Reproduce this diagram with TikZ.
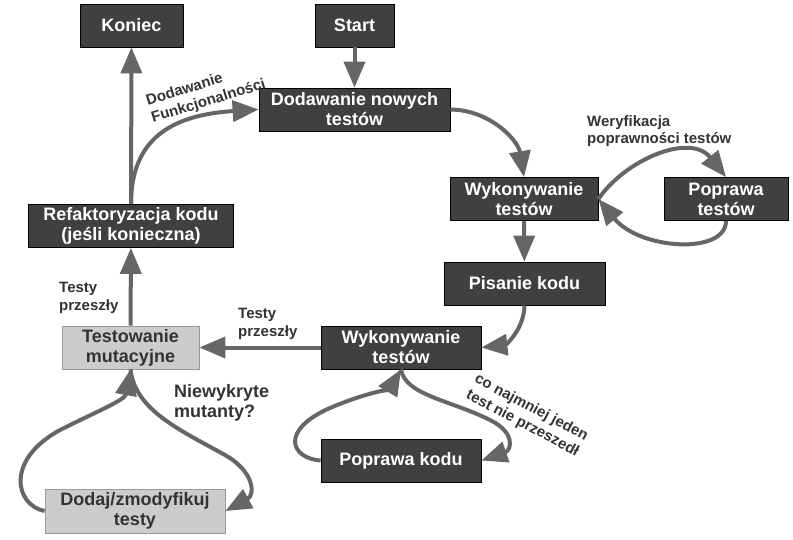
\documentclass[tikz,border=0pt]{standalone}
\usepackage{fontspec}
\setmainfont{Liberation Sans}
\usetikzlibrary{arrows.meta}

\definecolor{boxdark}{HTML}{404040}
\definecolor{boxlight}{HTML}{CCCCCC}
\definecolor{arrowgray}{HTML}{666666}
\definecolor{labelgray}{HTML}{333333}

\begin{document}
\begin{tikzpicture}[x=1pt, y=-1pt, >={Triangle[length=26pt,width=21pt]},
  darkbox/.style={draw=black, fill=boxdark, text=white, line width=0.8pt,
    font=\bfseries\fontsize{18}{20}\selectfont, align=center,
    inner sep=0pt, minimum height=43pt},
  lightbox/.style={darkbox, draw=gray!80, fill=boxlight, text=labelgray},
  flow/.style={->, draw=arrowgray, line width=4pt},
  lbl/.style={text=labelgray, font=\bfseries\fontsize{15}{18}\selectfont,
    align=left, inner sep=0pt}]
  % page frame
  \fill[white] (0,0) rectangle (793,540);
  \useasboundingbox (0,0) rectangle (793,540);

  % The boxes
  \node[darkbox, minimum width=103pt] (koniec) at (131.5,25.5) {Koniec};
  \node[darkbox, minimum width=79pt] (start) at (354.5,25.5) {Start};
  \node[darkbox, minimum width=191pt] (dodnowe) at (354.5,109.5) {Dodawanie nowych\\testów};
  \node[darkbox, minimum width=148pt] (wyktop) at (524,199) {Wykonywanie\\testów};
  \node[darkbox, minimum width=124pt] (poprtest) at (726,199) {Poprawa\\testów};
  \node[darkbox, minimum width=161pt] (pisanie) at (524.5,283.5) {Pisanie kodu};
  \node[darkbox, minimum width=160pt] (wykbot) at (401,347.5) {Wykonywanie\\testów};
  \node[darkbox, minimum width=160pt] (poprkod) at (401,460.5) {Poprawa kodu};
  \node[darkbox, minimum width=205pt] (refak) at (131,226) {Refaktoryzacja kodu\\(jeśli konieczna)};
  \node[lightbox, minimum width=137pt] (mutac) at (130.5,347.5) {Testowanie\\mutacyjne};
  \node[lightbox, minimum width=180pt, minimum height=44pt] (dodaj) at (135,511) {Dodaj/zmodyfikuj\\testy};

  % straight connectors
  \draw[flow] (start) -- (dodnowe);
  \draw[flow] (refak) -- (koniec);
  \draw[flow] (wyktop) -- (pisanie);
  \draw[flow] (wykbot) -- (mutac);
  \draw[flow] (mutac) -- (refak);

  % curved connectors
  \draw[flow] (refak.north) .. controls (131,140) and (170,115) .. (dodnowe.west);
  \draw[flow] (dodnowe.east) .. controls (490,110) and (518,140) .. (wyktop.north);
  \draw[flow] (wyktop.east) .. controls (625,160) and (690,132) .. (poprtest.north);
  \draw[flow] (poprtest.south) .. controls (726,255) and (640,250) .. (wyktop.east);
  \draw[flow] (pisanie.south) .. controls (524,330) and (505,345) .. (wykbot.east);
  \draw[flow] (wykbot.south) .. controls (405,395) and (450,400) .. (490,420)
    .. controls (515,432) and (512,450) .. (poprkod.east);
  \draw[flow] (poprkod.west) .. controls (290,458) and (280,430) .. (330,408)
    .. controls (360,395) and (390,388) .. (wykbot.south);
  \draw[flow] (mutac.south) .. controls (135,410) and (180,430) .. (225,455)
    .. controls (255,472) and (255,495) .. (dodaj.east);
  \draw[flow] (dodaj.west) .. controls (15,505) and (5,460) .. (60,430)
    .. controls (100,410) and (125,400) .. (mutac.south);

  % labels
  \node[lbl, rotate=17] (lblfunk) at (206,93) {Dodawanie\\Funkcjonalności};
  \node[lbl, anchor=west, font=\bfseries\fontsize{15}{16.5}\selectfont] (lblweryf) at (587,131) {Weryfikacja\\poprawności testów};
  \node[lbl, anchor=west] (lblprzesz) at (59,298) {Testy\\przeszły};
  \node[lbl, anchor=west] (lblprzeszb) at (238,324) {Testy\\przeszły};
  \node[lbl, anchor=west, font=\bfseries\fontsize{18}{20}\selectfont] (lblmutanty) at (174,403) {Niewykryte\\mutanty?};
  \node[lbl, rotate=-28] (lbljeden) at (527,416) {co najmniej jeden\\test nie przeszedł};
\end{tikzpicture}
\end{document}
